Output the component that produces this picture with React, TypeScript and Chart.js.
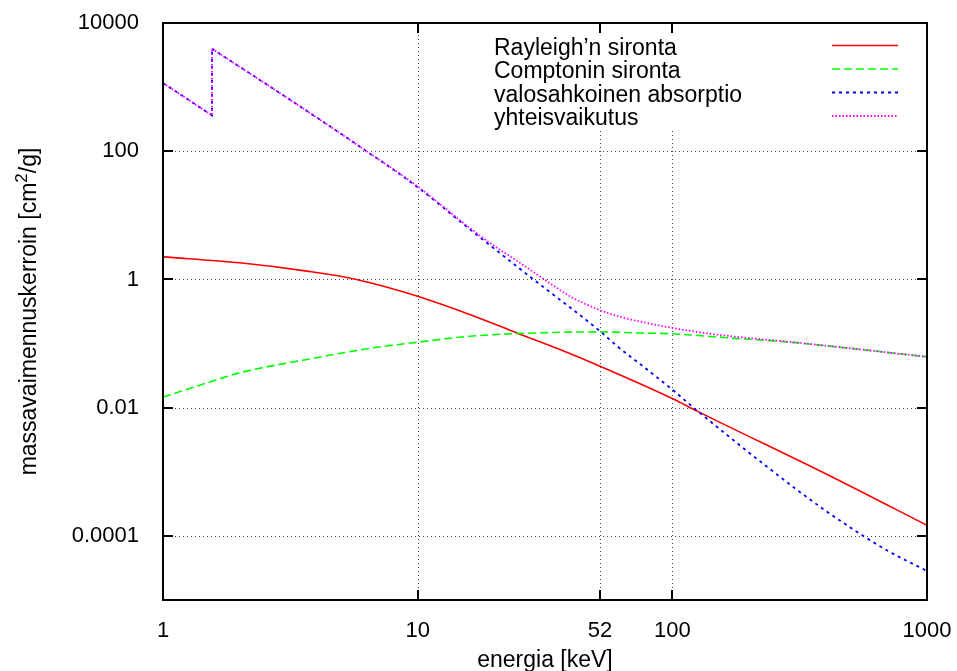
import React, { useEffect, useRef } from "react";
import { Chart, registerables } from "chart.js";

Chart.register(...registerables);

// ---- data ----
const seriesLabels = [
  "Rayleigh\u2019n sironta",
  "Comptonin sironta",
  "valosahkoinen absorptio",
  "yhteisvaikutus",
];

const rayleighEnergy = [1, 2, 3.67, 5.75, 10, 16.0, 24.8, 36.2, 52, 100, 124.6, 430, 1000];
const rayleighValues = [2.25, 1.82, 1.35, 1.0, 0.547, 0.284, 0.144, 0.0807, 0.0444, 0.0139, 0.00891, 0.000807, 0.000146];

const comptonEnergy = [1, 1.49, 2.0, 3.67, 6.7, 10, 16.0, 24.5, 52, 74.6, 100, 138, 184, 290, 455, 1000];
const comptonValues = [0.0146, 0.0244, 0.035, 0.0564, 0.0859, 0.105, 0.13, 0.143, 0.152, 0.146, 0.142, 0.13, 0.119, 0.105, 0.0877, 0.0621];

// absorption edge at 1.557 keV: the value before and after the jump
const photoEnergy = [1, 1.557, 1.557, 3.45, 6.3, 10, 16.5, 28.5, 52, 61.4, 77, 100, 124.6, 234, 400, 684, 1000];
const photoValues = [1160, 363, 3970, 501, 100, 27.4, 5.52, 1.0, 0.156, 0.0877, 0.0437, 0.0191, 0.00912, 0.00122, 0.000247, 0.000062, 0.0000283];

const totalEnergy = [1, 1.557, 1.557, 3.45, 6.3, 10, 16.0, 19.2, 25.2, 31.6, 39.6, 51.2, 62.3, 81.6, 99.4, 138, 184, 290, 455, 1000];
const totalValues = [1160, 363, 3970, 501, 100, 28.2, 6.37, 3.72, 1.82, 0.986, 0.547, 0.34, 0.261, 0.205, 0.176, 0.1435, 0.126, 0.106, 0.0877, 0.0621];

const xTickValues = [1, 10, 52, 100, 1000];
const xTickLabels = ["1", "10", "52", "100", "1000"];
const xGridValues = [10, 52, 100];

const yTickValues = [10000, 100, 1, 0.01, 0.0001];
const yTickLabels = ["10000", "100", "1", "0.01", "0.0001"];
const yGridValues = [100, 1, 0.01, 0.0001];

const xTitle = "energia [keV]";
// y title: text before the superscript, the superscript, text after it
const yTitleParts = ["massavaimennuskerroin [cm", "2", "/g]"];

const FONT = "'Liberation Sans', Arial, Helvetica, sans-serif";

const seriesStyles = [
  { color: "#ff0000", dash: [] as number[], width: 1.6 },
  { color: "#00ff00", dash: [8, 4], width: 1.6 },
  { color: "#0000ff", dash: [3, 4], width: 1.8 },
  { color: "#ff00ff", dash: [1.5, 2], width: 1.8 },
];

const gnuplotPlugin = {
  id: "gnuplotFrame",
  beforeDatasetsDraw(chart: any) {
    const { ctx, chartArea: a, scales } = chart;
    const x = scales.x;
    const y = scales.y;
    ctx.save();
    ctx.strokeStyle = "#444";
    ctx.lineWidth = 1;
    ctx.setLineDash([1, 3]);
    xGridValues.forEach((v) => {
      const px = Math.round(x.getPixelForValue(v)) + 0.5;
      ctx.beginPath();
      ctx.moveTo(px, a.top);
      ctx.lineTo(px, a.bottom);
      ctx.stroke();
    });
    yGridValues.forEach((v) => {
      const py = Math.round(y.getPixelForValue(v)) + 0.5;
      ctx.beginPath();
      ctx.moveTo(a.left, py);
      ctx.lineTo(a.right, py);
      ctx.stroke();
    });
    // opaque key area
    ctx.setLineDash([]);
    ctx.fillStyle = "#ffffff";
    ctx.fillRect(470, 33, 445, 98);
    ctx.restore();
  },
  afterDatasetsDraw(chart: any) {
    const { ctx, chartArea: a, scales } = chart;
    const x = scales.x;
    const y = scales.y;
    ctx.save();
    ctx.setLineDash([]);
    ctx.strokeStyle = "#000";
    ctx.lineWidth = 2;
    ctx.strokeRect(a.left, a.top, a.right - a.left, a.bottom - a.top);
    const tl = 10;
    xTickValues.forEach((v) => {
      const px = Math.round(x.getPixelForValue(v));
      ctx.beginPath();
      ctx.moveTo(px, a.bottom);
      ctx.lineTo(px, a.bottom - tl);
      ctx.moveTo(px, a.top);
      ctx.lineTo(px, a.top + tl);
      ctx.stroke();
    });
    yTickValues.forEach((v) => {
      const py = Math.round(y.getPixelForValue(v));
      ctx.beginPath();
      ctx.moveTo(a.left, py);
      ctx.lineTo(a.left + tl, py);
      ctx.moveTo(a.right, py);
      ctx.lineTo(a.right - tl, py);
      ctx.stroke();
    });

    // key
    const textX = 494;
    const sx1 = 832;
    const sx2 = 898;
    const row0 = 45.5;
    const step = 23.5;
    ctx.font = `23px ${FONT}`;
    ctx.textAlign = "left";
    ctx.textBaseline = "alphabetic";
    seriesLabels.forEach((lab, i) => {
      const ry = row0 + i * step;
      ctx.fillStyle = "#000";
      ctx.fillText(lab, textX, ry + 9);
      const st = seriesStyles[i];
      ctx.strokeStyle = st.color;
      ctx.lineWidth = st.width;
      ctx.setLineDash(st.dash);
      ctx.beginPath();
      ctx.moveTo(sx1, ry);
      ctx.lineTo(sx2, ry);
      ctx.stroke();
    });
    ctx.setLineDash([]);

    // axis titles
    ctx.fillStyle = "#000";
    ctx.font = `23px ${FONT}`;
    ctx.textAlign = "center";
    ctx.fillText(xTitle, (a.left + a.right) / 2, 667);

    ctx.save();
    ctx.translate(36, (a.top + a.bottom) / 2);
    ctx.rotate(-Math.PI / 2);
    ctx.textAlign = "left";
    const mainFont = `23px ${FONT}`;
    const supFont = `17px ${FONT}`;
    ctx.font = mainFont;
    const w0 = ctx.measureText(yTitleParts[0]).width;
    const w2 = ctx.measureText(yTitleParts[2]).width;
    ctx.font = supFont;
    const w1 = ctx.measureText(yTitleParts[1]).width;
    let cx = -(w0 + w1 + w2) / 2;
    ctx.font = mainFont;
    ctx.fillText(yTitleParts[0], cx, 0);
    cx += w0;
    ctx.font = supFont;
    ctx.fillText(yTitleParts[1], cx, -9);
    cx += w1;
    ctx.font = mainFont;
    ctx.fillText(yTitleParts[2], cx, 0);
    ctx.restore();
    ctx.restore();
  },
};

function pts(xs: number[], ys: number[], from = 0, to = xs.length) {
  const out: { x: number; y: number }[] = [];
  for (let i = from; i < to; i++) out.push({ x: xs[i], y: ys[i] });
  return out;
}

function lineDs(label: string, data: any, st: any, order: number, mono: boolean) {
  return {
    label,
    data,
    borderColor: st.color,
    borderWidth: st.width,
    borderDash: st.dash,
    pointRadius: 0,
    tension: mono ? 0.4 : 0,
    cubicInterpolationMode: mono ? "monotone" : "default",
    order,
  };
}

export default function App() {
  const ref = useRef<HTMLCanvasElement>(null);
  useEffect(() => {
    const canvas = ref.current;
    if (!canvas) return;
    const chart = new Chart(canvas, {
      type: "line",
      data: {
        datasets: [
          lineDs(seriesLabels[0], pts(rayleighEnergy, rayleighValues), seriesStyles[0], 4, true),
          lineDs(seriesLabels[1], pts(comptonEnergy, comptonValues), seriesStyles[1], 3, true),
          // below the edge and the jump itself: straight segments
          lineDs(seriesLabels[2], pts(photoEnergy, photoValues, 0, 3), seriesStyles[2], 2, false),
          lineDs(seriesLabels[2], pts(photoEnergy, photoValues, 2), seriesStyles[2], 2, true),
          lineDs(seriesLabels[3], pts(totalEnergy, totalValues, 0, 3), seriesStyles[3], 1, false),
          lineDs(seriesLabels[3], pts(totalEnergy, totalValues, 2), seriesStyles[3], 1, true),
        ],
      } as any,
      options: {
        animation: false,
        responsive: false,
        devicePixelRatio: 1,
        layout: { padding: { left: 0, right: 30, top: 23, bottom: 0 } },
        plugins: { legend: { display: false }, tooltip: { enabled: false } },
        scales: {
          x: {
            type: "logarithmic",
            min: 1,
            max: 1000,
            grid: { display: false },
            border: { display: false },
            afterBuildTicks: (s: any) => {
              s.ticks = xTickValues.map((v) => ({ value: v }));
            },
            afterFit: (s: any) => {
              s.height = 71;
              s.paddingLeft = 0;
              s.paddingRight = 0;
            },
            ticks: {
              autoSkip: false,
              maxRotation: 0,
              minRotation: 0,
              padding: 10,
              color: "#000",
              font: { size: 22, family: FONT },
              callback: (v: any) => {
                const i = xTickValues.indexOf(Number(v));
                return i >= 0 ? xTickLabels[i] : "";
              },
            },
          },
          y: {
            type: "logarithmic",
            min: 0.00001,
            max: 10000,
            grid: { display: false },
            border: { display: false },
            afterBuildTicks: (s: any) => {
              s.ticks = yTickValues.map((v) => ({ value: v }));
            },
            afterFit: (s: any) => {
              s.width = 163;
              s.paddingTop = 0;
              s.paddingBottom = 0;
            },
            ticks: {
              autoSkip: false,
              padding: 16,
              color: "#000",
              font: { size: 22, family: FONT },
              callback: (v: any) => {
                const i = yTickValues.indexOf(Number(v));
                return i >= 0 ? yTickLabels[i] : "";
              },
            },
          },
        },
      } as any,
      plugins: [gnuplotPlugin],
    });
    return () => chart.destroy();
  }, []);

  return (
    <div style={{ position: "absolute", left: 0, top: 0, width: 957, height: 671, background: "#fff" }}>
      <canvas ref={ref} width={957} height={671} style={{ display: "block", width: 957, height: 671 }} />
    </div>
  );
}
